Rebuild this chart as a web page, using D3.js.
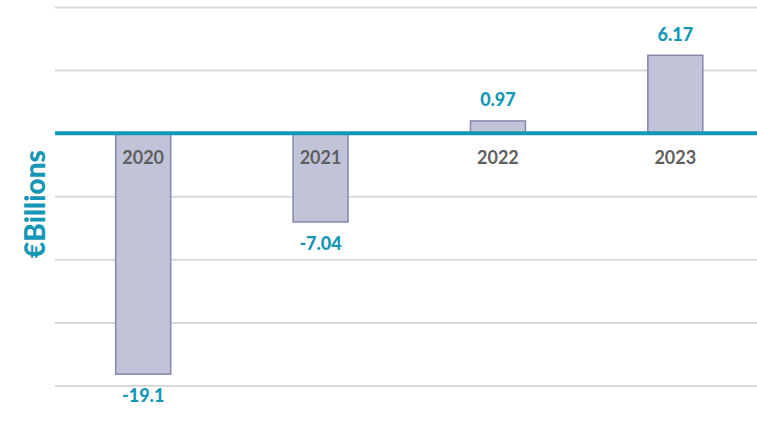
<!DOCTYPE html>
<html>
<head>
<meta charset="utf-8">
<script src="https://cdn.jsdelivr.net/npm/d3@7"></script>
<style>
	body { margin: 0; background: #ffffff; }
	svg { display: block; font-family: Lato, 'Open Sans', sans-serif; }
</style>
</head>
<body>
<div id="chart"></div>
<script>

// data
var years = ['2020', '2021', '2022', '2023'];
var values = [-19.1, -7.04, 0.97, 6.17];
var valueLabels = ['-19.1', '-7.04', '0.97', '6.17'];
var gridTicks = [-20, -15, -10, -5, 0, 5, 10];

var width = 757,
		height = 448;

var teal = '#1497b6',
		barFill = '#c1c3d9',
		barStroke = '#8787ae',
		gridColor = '#d9d9d9',
		catColor = '#5f5f5f';

var svg = d3.select('#chart')
						.append('svg')
							.attr('width', width)
							.attr('height', height);

var x = d3.scaleBand()
					.domain(years)
					.range([54.5, 764])
					.paddingInner(0.69)
					.paddingOuter(0.345);

var y = d3.scaleLinear()
					.domain([-20, 10])
					.range([385.5, 7]);

// gridlines
var grid = svg.append('g')
							.attr('class', 'grid')
							.attr('transform', 'translate(55,0)')
							.call(d3.axisLeft(y).tickValues(gridTicks).tickSize(-(width - 55)).tickFormat(''));

grid.select('.domain').remove();
grid.selectAll('.tick line')
		.style('stroke', gridColor)
		.style('stroke-width', 2);

// bars
svg.append('g')
		.selectAll('rect')
		.data(values)
		.enter()
		.append('rect')
			.attr('x', function(d, i) { return x(years[i]); })
			.attr('y', function(d) { return y(Math.max(0, d)); })
			.attr('width', x.bandwidth())
			.attr('height', function(d) { return Math.abs(y(d) - y(0)); })
			.style('fill', barFill)
			.style('stroke', barStroke)
			.style('stroke-width', 1.5);

// zero line
svg.append('line')
		.attr('x1', 55)
		.attr('x2', width)
		.attr('y1', y(0))
		.attr('y2', y(0))
		.style('stroke', teal)
		.style('stroke-width', 4);

// category labels under the zero line
svg.append('g')
		.selectAll('text')
		.data(years)
		.enter()
		.append('text')
			.attr('x', function(d) { return x(d) + x.bandwidth() / 2; })
			.attr('y', y(0) + 31)
			.attr('text-anchor', 'middle')
			.text(function(d) { return d; })
				.style('fill', catColor)
				.style('font-size', '18px')
				.style('font-weight', 700);

// value labels
svg.append('g')
		.selectAll('text')
		.data(values)
		.enter()
		.append('text')
			.attr('x', function(d, i) { return x(years[i]) + x.bandwidth() / 2; })
			.attr('y', function(d) { return d < 0 ? y(d) + 28 : y(d) - 14.5; })
			.attr('text-anchor', 'middle')
			.text(function(d, i) { return valueLabels[i]; })
				.style('fill', teal)
				.style('font-size', '18px')
				.style('font-weight', 900);

// axis title
svg.append('text')
		.attr('transform', 'translate(45,204) rotate(-90)')
		.attr('text-anchor', 'middle')
		.text('€Billions')
			.style('fill', teal)
			.style('font-size', '28px')
			.style('font-weight', 900);

</script>
</body>
</html>
